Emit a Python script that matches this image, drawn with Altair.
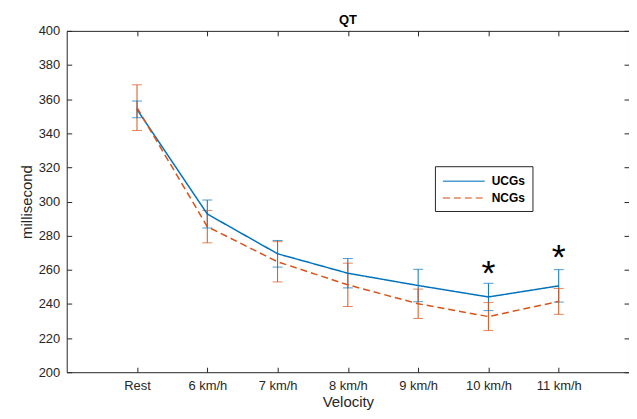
import altair as alt
import pandas as pd

categories = ["Rest", "6 km/h", "7 km/h", "8 km/h", "9 km/h", "10 km/h", "11 km/h"]
series_names = ["UCGs", "NCGs"]
ucg_mean = [354.0, 292.7, 269.4, 258.0, 250.8, 244.1, 250.6]
ucg_err = [4.9, 8.2, 7.8, 8.6, 9.5, 8.0, 9.5]
ncg_mean = [355.0, 285.3, 264.7, 251.2, 240.1, 232.6, 241.5]
ncg_err = [13.4, 9.5, 11.8, 12.7, 8.6, 8.2, 7.6]
sig_cats = ["10 km/h", "11 km/h"]
sig_y = [261.5, 271.0]
y_ticks = list(range(200, 401, 20))

colors = ["#0072BD", "#D95319"]
FONT = "Liberation Sans"
AX = "#262626"

rows = []
for name, means, errs in [("UCGs", ucg_mean, ucg_err), ("NCGs", ncg_mean, ncg_err)]:
    for c, m, e in zip(categories, means, errs):
        rows.append({"cat": c, "series": name, "mean": m, "lo": m - e, "hi": m + e})
df = pd.DataFrame(rows)
sig_df = pd.DataFrame({"cat": sig_cats, "y": sig_y, "t": ["*"] * len(sig_cats)})

xscale = alt.Scale(type="point", domain=categories, padding=1)
yscale = alt.Scale(domain=[200, 400], nice=False, zero=False)
cscale = alt.Scale(domain=series_names, range=colors)
dscale = alt.Scale(domain=series_names, range=[[1, 0], [7, 4]])

ax_common = dict(grid=False, domain=False, tickSize=5, offset=-5, tickColor=AX,
                 labelColor=AX, labelFont=FONT, labelFontSize=13, titleFont=FONT,
                 titleFontSize=15, titleColor=AX, titleFontWeight="normal")

x_bottom = alt.X("cat:O", scale=xscale, sort=categories,
                 axis=alt.Axis(orient="bottom", title="Velocity", labelAngle=0,
                               labelPadding=7, titlePadding=2, **ax_common))
y_left = alt.Y("mean:Q", scale=yscale,
               axis=alt.Axis(orient="left", title="millisecond", values=y_ticks,
                             labelPadding=7, titlePadding=4, **ax_common))

x_top = alt.X("cat:O", scale=xscale, sort=categories,
              axis=alt.Axis(orient="top", title=None, labels=False, **ax_common))
y_right = alt.Y("mean:Q", scale=yscale,
                axis=alt.Axis(orient="right", title=None, labels=False, values=y_ticks,
                              **ax_common))

x_none = alt.X("cat:O", scale=xscale, sort=categories, axis=None)

legend = alt.Legend(title=None, orient="none", legendX=370, legendY=136,
                    strokeColor=AX, fillColor="white", padding=7,
                    symbolType="M-1,0H5", symbolSize=196,
                    symbolStrokeWidth=1.5, labelFont=FONT,
                    labelFontSize=12, labelFontWeight="bold",
                    labelColor="black", rowPadding=3, labelOffset=34)

color_enc = alt.Color("series:N", scale=cscale, sort=series_names, legend=legend)
dash_enc = alt.StrokeDash("series:N", scale=dscale, sort=series_names, legend=legend)

base = alt.Chart(df)

lines = base.mark_line(strokeWidth=1.5).encode(
    x=x_bottom,
    y=y_left,
    color=color_enc,
    strokeDash=dash_enc,
)

axes2 = base.mark_line(opacity=0).encode(x=x_top, y=y_right)

rules = base.mark_rule(strokeWidth=1).encode(
    x=x_none,
    y=alt.Y("lo:Q", scale=yscale, axis=None),
    y2="hi:Q",
    color=color_enc,
)
caps_lo = base.mark_tick(size=10, thickness=1).encode(
    x=x_none,
    y=alt.Y("lo:Q", scale=yscale, axis=None),
    color=color_enc,
)
caps_hi = base.mark_tick(size=10, thickness=1).encode(
    x=x_none,
    y=alt.Y("hi:Q", scale=yscale, axis=None),
    color=color_enc,
)
stars = alt.Chart(sig_df).mark_text(font=FONT, fontSize=36, color="black",
                                    baseline="alphabetic", dy=18).encode(
    x=x_none,
    y=alt.Y("y:Q", scale=yscale, axis=None),
    text="t:N",
)

chart = alt.layer(rules, caps_lo, caps_hi, lines, axes2, stars).resolve_axis(
    x="independent", y="independent"
).properties(
    width=565, height=343,
    title=alt.TitleParams("QT", font=FONT, fontSize=13, fontWeight="bold",
                          color="black", offset=-2),
    autosize=alt.AutoSizeParams(type="none"),
    padding={"left": 59, "top": 22, "right": 0, "bottom": 40},
).configure_view(stroke=AX, strokeWidth=1)

chart.save("out.html", embed_options={"renderer": "svg", "actions": False})
